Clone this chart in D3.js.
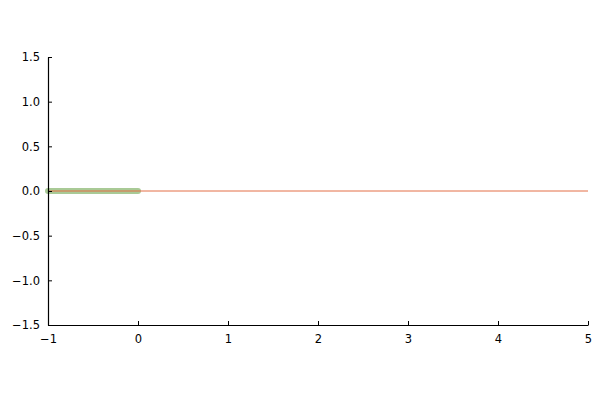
<!DOCTYPE html>
<html><head><meta charset="utf-8">
<script src="https://cdn.jsdelivr.net/npm/d3@7"></script>
<style>body{margin:0;background:#fff}svg{display:block}</style>
</head><body>
<script>
const xTicks = [-1, 0, 1, 2, 3, 4, 5];
const yTicks = [-1.5, -1.0, -0.5, 0.0, 0.5, 1.0, 1.5];
const lineX = [-1, 5];
const lineY = [0, 0];
const pointsX = [-1, -0.9, -0.8, -0.7, -0.6, -0.5, -0.4, -0.3, -0.2, -0.1, 0];
const pointsY = [0, 0, 0, 0, 0, 0, 0, 0, 0, 0, 0];

const W = 600, H = 400;
const svg = d3.select("body").append("svg").attr("width", W).attr("height", H);
const x = d3.scaleLinear().domain([-1, 5]).range([48, 588]);
const y = d3.scaleLinear().domain([-1.5, 1.5]).range([325, 57]);
const fmtMinus = s => s.replace("-", "\u2212");

// green band
const gline = d3.line().x(d => x(d[0])).y(d => y(d[1]));
svg.append("path")
  .attr("d", gline(pointsX.map((v, i) => [v, pointsY[i]])))
  .attr("fill", "none").attr("stroke", "#6fa650").attr("stroke-opacity", 0.6)
  .attr("stroke-width", 6).attr("stroke-linecap", "round");

// orange line
svg.append("path")
  .attr("d", gline(lineX.map((v, i) => [v, lineY[i]])))
  .attr("fill", "none").attr("stroke", "#E36F47").attr("stroke-width", 1);

// axes
const xAxis = d3.axisBottom(x).tickValues(xTicks).tickSizeInner(-4).tickSizeOuter(0).tickPadding(8)
  .tickFormat(d => fmtMinus(d3.format("d")(d)));
const yAxis = d3.axisLeft(y).tickValues(yTicks).tickSizeInner(-4).tickSizeOuter(0).tickPadding(8)
  .tickFormat(d => fmtMinus(d3.format(".1f")(d)));
const gx = svg.append("g").attr("transform", "translate(0,325)").call(xAxis);
const gy = svg.append("g").attr("transform", "translate(48,0)").call(yAxis);
[gx, gy].forEach(g => {
  g.selectAll("text").attr("font-family", "DejaVu Sans, sans-serif").attr("font-size", 11.5).attr("fill", "#000");
  g.selectAll("line").attr("stroke", "#000");
  g.select(".domain").attr("stroke", "#000").attr("stroke-width", 1.2);
});
gx.selectAll("text").attr("dy", "0.85em");
</script>
</body></html>
